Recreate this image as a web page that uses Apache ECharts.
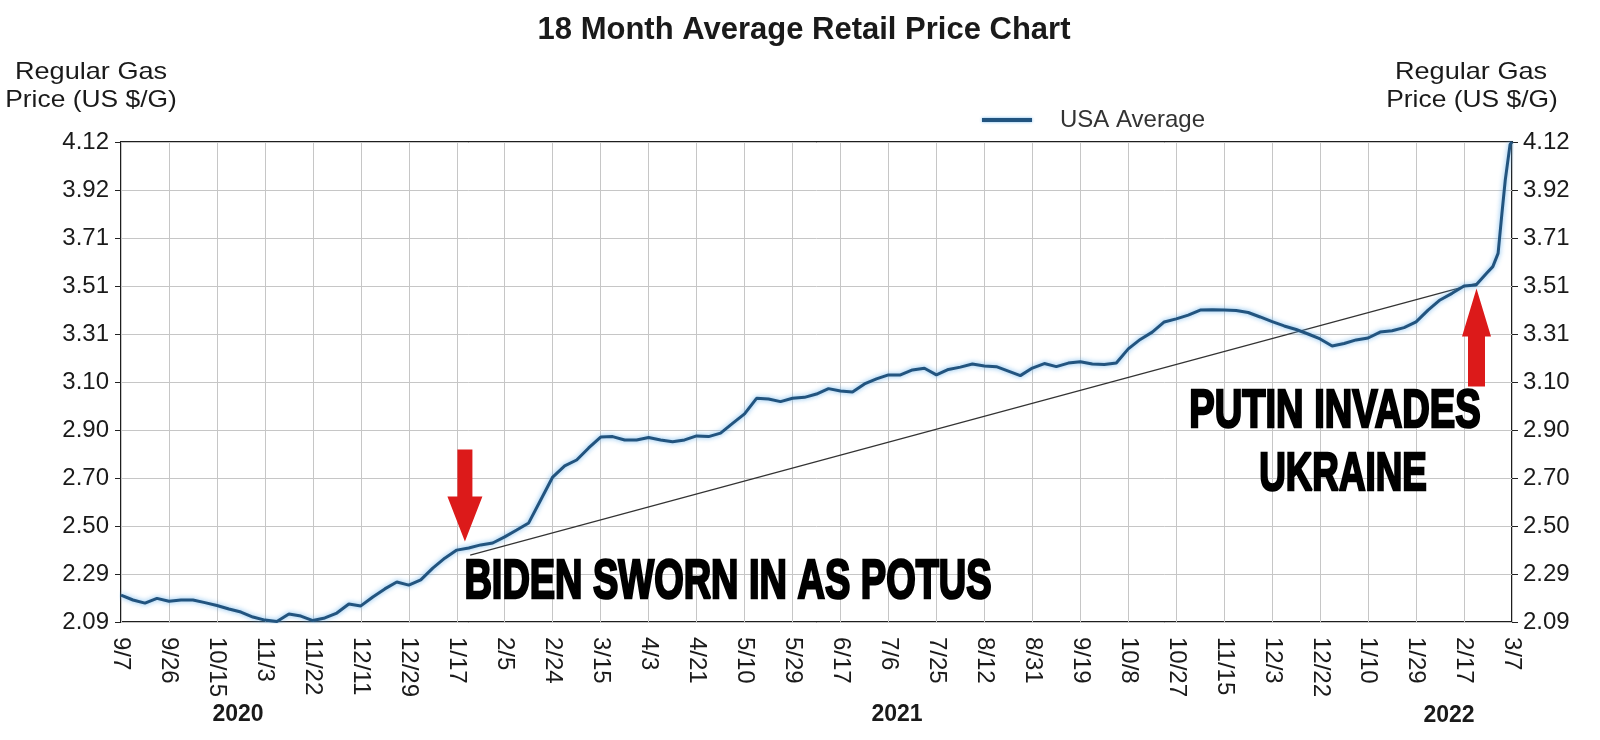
<!DOCTYPE html>
<html>
<head>
<meta charset="utf-8">
<script src="https://cdn.jsdelivr.net/npm/echarts@6/dist/echarts.min.js"></script>
<style>
html,body{margin:0;padding:0;background:#fff;}
#chart{width:1600px;height:740px;}
</style>
</head>
<body>
<div id="chart"></div>
<script>
// ---- data ----
const xTickLabels = ['9/7','9/26','10/15','11/3','11/22','12/11','12/29','1/17','2/5','2/24','3/15','4/3','4/21','5/10','5/29','6/17','7/6','7/25','8/12','8/31','9/19','10/8','10/27','11/15','12/3','12/22','1/10','1/29','2/17','3/7'];
const yTickLabels = ['2.09','2.29','2.50','2.70','2.90','3.10','3.31','3.51','3.71','3.92','4.12'];
const yearLabels = ['2020','2021','2022'];
const yMin = 2.09, yMax = 4.12, yStep = 0.203;

// USA average price, sampled every quarter of an x-tick step (position = index / 4)
const quarterPrices = [
  2.204,2.183,2.170,2.190,2.178,2.183,2.183,2.172,2.160,2.145,
  2.132,2.111,2.098,2.092,2.124,2.115,2.096,2.107,2.128,2.166,
  2.158,2.196,2.230,2.259,2.246,2.268,2.318,2.360,2.394,2.403,
  2.416,2.424,2.450,2.479,2.509,2.606,2.703,2.750,2.775,2.826,
  2.872,2.874,2.860,2.860,2.870,2.860,2.852,2.860,2.877,2.874,
  2.889,2.930,2.970,3.036,3.033,3.022,3.036,3.040,3.054,3.077,
  3.067,3.063,3.097,3.118,3.135,3.135,3.156,3.163,3.135,3.158,
  3.168,3.181,3.173,3.170,3.151,3.132,3.164,3.183,3.170,3.185,
  3.191,3.181,3.179,3.185,3.245,3.285,3.316,3.359,3.372,3.388,
  3.409,3.411,3.409,3.407,3.399,3.380,3.360,3.342,3.327,3.308,
  3.287,3.257,3.268,3.283,3.291,3.316,3.322,3.335,3.359,3.409,
  3.452,3.480,3.511,3.515
];
// steep final rise (positions in x-tick steps)
const tailSteps  = [28.47, 28.60, 28.71, 28.79, 28.86, 28.96, 29.0];
const tailPrices = [3.565, 3.593, 3.649, 3.818, 3.960, 4.110, 4.120];

// thin trend line drawn between the two events
const trendStart = [7.28, 2.373];
const trendEnd   = [28.26, 3.522];
// arrow tips (data space)
const bidenTip = [7.17, 2.43];
const putinTip = [28.26, 3.50];

// ---- chart ----
const FONT = '"Liberation Sans", Arial, Helvetica, sans-serif';
const LINE_COLOR = '#22547f';
const chart = echarts.init(document.getElementById('chart'));

const mainData = quarterPrices.map((p, i) => [i / 4, p])
  .concat(tailSteps.map((s, i) => [s, tailPrices[i]]));

const yLabelFmt = v => {
  const k = Math.round((v - yMin) / yStep);
  return yTickLabels[k] !== undefined ? yTickLabels[k] : '';
};
const yAxisBase = (pos, margin) => ({
  type: 'value', position: pos, min: yMin, max: yMax, interval: yStep,
  axisLine: { show: false },
  axisTick: { show: true, length: 6, lineStyle: { color: '#222', width: 1 } },
  splitLine: { show: pos === 'left', lineStyle: { color: '#c6c6c6', width: 1 } },
  axisLabel: { margin: margin, fontFamily: FONT, fontSize: 24, color: '#1a1a1a', formatter: yLabelFmt }
});

chart.setOption({
  animation: false,
  backgroundColor: '#ffffff',
  grid: { left: 121, top: 142, width: 1391, height: 480, show: true, borderColor: '#1e1e1e', borderWidth: 2, backgroundColor: '#ffffff' },
  legend: {
    data: ['USA Average'], left: 982, top: 108, padding: 0, itemWidth: 50, itemHeight: 4, icon: 'rect',
    itemStyle: { color: LINE_COLOR, shadowColor: 'rgba(100,175,235,0.9)', shadowBlur: 3 },
    textStyle: { fontFamily: FONT, fontSize: 24, color: '#333', padding: [0, 0, 0, 23] }
  },
  xAxis: {
    type: 'value', min: 0, max: xTickLabels.length - 1, interval: 1,
    axisLine: { show: false }, axisTick: { show: false },
    splitLine: { show: true, lineStyle: { color: '#c6c6c6', width: 1 } },
    axisLabel: {
      rotate: -90, margin: 15, fontFamily: FONT, fontSize: 24, color: '#1a1a1a',
      formatter: v => { const k = Math.round(v); return xTickLabels[k] !== undefined ? xTickLabels[k] : ''; }
    }
  },
  yAxis: [ yAxisBase('left', 12), yAxisBase('right', 11) ],
  series: [
    {
      name: 'USA Average', type: 'line', data: mainData, symbol: 'none', showSymbol: false, z: 4,
      color: LINE_COLOR, itemStyle: { color: LINE_COLOR },
      lineStyle: { color: LINE_COLOR, width: 3, shadowColor: 'rgba(100,175,235,0.9)', shadowBlur: 5 }
    },
    {
      name: 'trend', type: 'line', data: [trendStart, trendEnd], symbol: 'none', silent: true, z: 3,
      color: '#333333', lineStyle: { color: '#333333', width: 1.2 }
    }
  ]
});

// ---- overlay texts and arrows ----
function txt(text, x, y, size, weight, opts) {
  opts = opts || {};
  return {
    type: 'text', x: x, y: y, scaleX: opts.sx || 1, scaleY: opts.sy || 1, z: 100,
    style: {
      text: text, fill: opts.fill || '#1a1a1a',
      font: (weight || 'normal') + ' ' + size + 'px ' + FONT,
      align: 'center', verticalAlign: 'middle', textAlign: 'center', textVerticalAlign: 'middle',
      stroke: opts.stroke || null, lineWidth: opts.lw || 0
    }
  };
}
const bt = chart.convertToPixel({ xAxisIndex: 0, yAxisIndex: 0 }, bidenTip);
const pt = chart.convertToPixel({ xAxisIndex: 0, yAxisIndex: 0 }, putinTip);
const RED = '#dc1a1a';
const graphics = [
  txt('18 Month Average Retail Price Chart', 804, 30, 31, 'bold', { fill: '#1a1a1a' }),
  txt('Regular Gas', 91, 72, 24, 'normal', { sx: 1.13 }),
  txt('Price (US $/G)', 91, 100, 24, 'normal', { sx: 1.1 }),
  txt('Regular Gas', 1471, 72, 24, 'normal', { sx: 1.13 }),
  txt('Price (US $/G)', 1472, 100, 24, 'normal', { sx: 1.1 }),
  txt(yearLabels[0], 238, 715, 23, 'bold'),
  txt(yearLabels[1], 897, 715, 23, 'bold'),
  txt(yearLabels[2], 1449, 716, 23, 'bold'),
  txt('BIDEN SWORN IN AS POTUS', 728, 583, 46, 'bold', { sx: 0.825, sy: 1.22, fill: '#000', stroke: '#000', lw: 2.2 }),
  txt('PUTIN INVADES', 1335, 412, 46, 'bold', { sx: 0.828, sy: 1.17, fill: '#000', stroke: '#000', lw: 2.2 }),
  txt('UKRAINE', 1343, 475, 46, 'bold', { sx: 0.80, sy: 1.17, fill: '#000', stroke: '#000', lw: 2.2 }),
  {
    type: 'polygon', x: bt[0], y: bt[1], z: 90,
    shape: { points: [[-7.5, -92], [7.5, -92], [7.5, -45], [17.5, -45], [0, 0], [-17.5, -45], [-7.5, -45]] },
    style: { fill: RED }
  },
  {
    type: 'polygon', x: pt[0], y: pt[1], z: 90,
    shape: { points: [[-8.5, 98], [8.5, 98], [8.5, 48], [14.5, 48], [0, 0], [-14.5, 48], [-8.5, 48]] },
    style: { fill: RED }
  }
];
chart.setOption({ graphic: graphics });
</script>
</body>
</html>
